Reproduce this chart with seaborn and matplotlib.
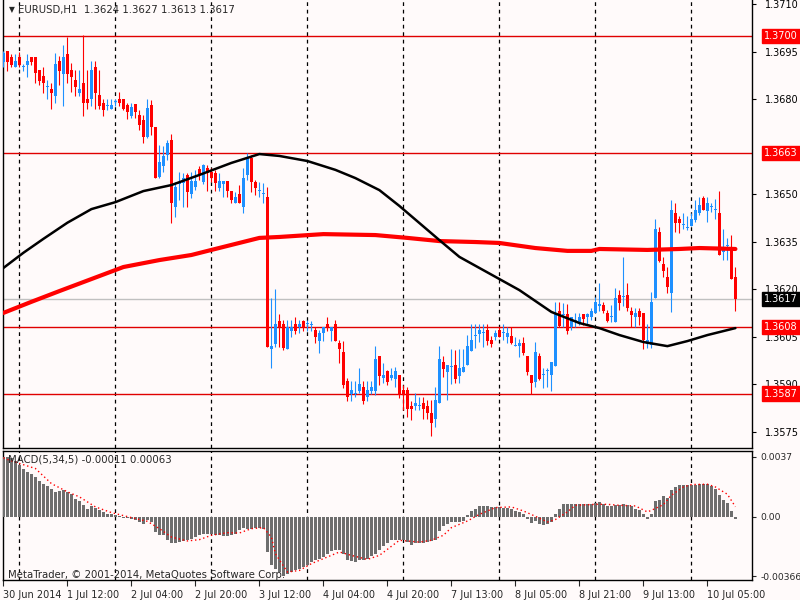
import numpy as np
import seaborn as sns
import matplotlib.pyplot as plt
import matplotlib.transforms as mtransforms

# ======================================
# DATA (EURUSD H1)
# ======================================

opens = [
    1.36918, 1.36953, 1.36934, 1.36902, 1.36934, 1.36902, 1.36908, 1.36934, 1.36934, 1.36893,
    1.36874, 1.36839, 1.36833, 1.36810, 1.36921, 1.36880, 1.36943, 1.36893, 1.36861, 1.36820,
    1.36852, 1.36801, 1.36801, 1.36902, 1.36814, 1.36788, 1.36779, 1.36769, 1.36792, 1.36801,
    1.36801, 1.36782, 1.36747, 1.36785, 1.36750, 1.36735, 1.36681, 1.36782, 1.36713, 1.36554,
    1.36589, 1.36624, 1.36671, 1.36460, 1.36532, 1.36536, 1.36561, 1.36501, 1.36523, 1.36580,
    1.36539, 1.36583, 1.36570, 1.36567, 1.36520, 1.36532, 1.36542, 1.36510, 1.36472, 1.36501,
    1.36460, 1.36561, 1.36615, 1.36539, 1.36510, 1.36501, 1.36491, 1.36011, 1.36027, 1.36099,
    1.36090, 1.36011, 1.36068, 1.36090, 1.36080, 1.36099, 1.36090, 1.36087, 1.36071, 1.36036,
    1.36062, 1.36090, 1.36068, 1.36090, 1.36030, 1.36002, 1.35910, 1.35869, 1.35869, 1.35878,
    1.35891, 1.35859, 1.35878, 1.35878, 1.35989, 1.35919, 1.35941, 1.35919, 1.35916, 1.35929,
    1.35881, 1.35881, 1.35831, 1.35831, 1.35831, 1.35840, 1.35831, 1.35809, 1.35790, 1.35840,
    1.35970, 1.35938, 1.35954, 1.35960, 1.35926, 1.35938, 1.35960, 1.36005, 1.36052, 1.36058,
    1.36062, 1.36071, 1.36039, 1.36049, 1.36071, 1.36062, 1.36049, 1.36052, 1.36020, 1.36020,
    1.36030, 1.35989, 1.35929, 1.35907, 1.35989, 1.35929, 1.35941, 1.35929, 1.35957, 1.36131,
    1.36118, 1.36122, 1.36080, 1.36099, 1.36093, 1.36122, 1.36112, 1.36112, 1.36125, 1.36147,
    1.36150, 1.36125, 1.36112, 1.36096, 1.36182, 1.36175, 1.36182, 1.36131, 1.36112, 1.36131,
    1.36125, 1.36027, 1.36024, 1.36172, 1.36381, 1.36280, 1.36238, 1.36188, 1.36441, 1.36422,
    1.36403, 1.36393, 1.36400, 1.36419, 1.36441, 1.36488, 1.36447, 1.36460, 1.36450, 1.36441,
    1.36317, 1.36336, 1.36333, 1.36240,
]
highs = [
    1.36953, 1.36953, 1.36943, 1.36943, 1.36950, 1.36912, 1.36943, 1.36934, 1.36934, 1.36893,
    1.36902, 1.36861, 1.36852, 1.36946, 1.36937, 1.36972, 1.36997, 1.36915, 1.36893, 1.36893,
    1.37003, 1.36893, 1.36921, 1.36921, 1.36893, 1.36801, 1.36801, 1.36801, 1.36801, 1.36823,
    1.36801, 1.36788, 1.36788, 1.36785, 1.36766, 1.36750, 1.36801, 1.36798, 1.36713, 1.36656,
    1.36652, 1.36671, 1.36690, 1.36539, 1.36570, 1.36567, 1.36567, 1.36570, 1.36577, 1.36589,
    1.36596, 1.36592, 1.36583, 1.36577, 1.36567, 1.36542, 1.36542, 1.36510, 1.36507, 1.36529,
    1.36583, 1.36630, 1.36624, 1.36545, 1.36539, 1.36536, 1.36523, 1.36172, 1.36201, 1.36122,
    1.36103, 1.36103, 1.36103, 1.36112, 1.36103, 1.36103, 1.36103, 1.36099, 1.36080, 1.36071,
    1.36080, 1.36112, 1.36080, 1.36103, 1.36039, 1.36036, 1.35919, 1.35910, 1.35910, 1.35951,
    1.35910, 1.35910, 1.35910, 1.36020, 1.35989, 1.35967, 1.35945, 1.35951, 1.35954, 1.35929,
    1.35897, 1.35891, 1.35847, 1.35872, 1.35859, 1.35859, 1.35850, 1.35850, 1.35891, 1.36020,
    1.35989, 1.35960, 1.36011, 1.36008, 1.36011, 1.36011, 1.36055, 1.36090, 1.36090, 1.36090,
    1.36090, 1.36090, 1.36052, 1.36071, 1.36080, 1.36090, 1.36080, 1.36080, 1.36049, 1.36043,
    1.36049, 1.35989, 1.35929, 1.36033, 1.35998, 1.35951, 1.35951, 1.35970, 1.36160, 1.36160,
    1.36156, 1.36153, 1.36112, 1.36125, 1.36125, 1.36122, 1.36125, 1.36141, 1.36175, 1.36220,
    1.36160, 1.36134, 1.36150, 1.36204, 1.36197, 1.36302, 1.36220, 1.36144, 1.36141, 1.36141,
    1.36125, 1.36090, 1.36191, 1.36422, 1.36396, 1.36302, 1.36270, 1.36482, 1.36472, 1.36431,
    1.36441, 1.36431, 1.36441, 1.36482, 1.36491, 1.36494, 1.36491, 1.36472, 1.36485, 1.36510,
    1.36390, 1.36362, 1.36371, 1.36270,
]
lows = [
    1.36902, 1.36889, 1.36902, 1.36902, 1.36902, 1.36889, 1.36870, 1.36908, 1.36852, 1.36845,
    1.36820, 1.36801, 1.36769, 1.36788, 1.36845, 1.36779, 1.36852, 1.36823, 1.36810, 1.36810,
    1.36747, 1.36769, 1.36779, 1.36769, 1.36769, 1.36747, 1.36766, 1.36769, 1.36779, 1.36779,
    1.36766, 1.36738, 1.36741, 1.36741, 1.36703, 1.36662, 1.36678, 1.36687, 1.36551, 1.36551,
    1.36570, 1.36608, 1.36409, 1.36428, 1.36482, 1.36460, 1.36460, 1.36488, 1.36513, 1.36545,
    1.36532, 1.36510, 1.36539, 1.36510, 1.36510, 1.36491, 1.36491, 1.36472, 1.36472, 1.36472,
    1.36441, 1.36545, 1.36507, 1.36498, 1.36491, 1.36472, 1.36017, 1.35951, 1.36017, 1.36017,
    1.36008, 1.36011, 1.36049, 1.36058, 1.36062, 1.36068, 1.36068, 1.36068, 1.36030, 1.35998,
    1.36036, 1.36068, 1.36036, 1.36036, 1.35967, 1.35888, 1.35847, 1.35847, 1.35859, 1.35872,
    1.35837, 1.35847, 1.35869, 1.35866, 1.35897, 1.35904, 1.35897, 1.35913, 1.35891, 1.35856,
    1.35818, 1.35796, 1.35787, 1.35818, 1.35818, 1.35790, 1.35790, 1.35736, 1.35764, 1.35840,
    1.35922, 1.35850, 1.35900, 1.35904, 1.35904, 1.35938, 1.35960, 1.36005, 1.36014, 1.36033,
    1.36017, 1.36024, 1.36017, 1.36039, 1.36049, 1.36039, 1.36030, 1.36027, 1.36020, 1.35986,
    1.35992, 1.35929, 1.35869, 1.35891, 1.35913, 1.35888, 1.35891, 1.35878, 1.35957, 1.36080,
    1.36080, 1.36058, 1.36071, 1.36080, 1.36087, 1.36087, 1.36087, 1.36103, 1.36125, 1.36131,
    1.36125, 1.36096, 1.36096, 1.36096, 1.36134, 1.36147, 1.36131, 1.36080, 1.36080, 1.36087,
    1.36011, 1.36014, 1.36014, 1.36172, 1.36286, 1.36238, 1.36188, 1.36128, 1.36381, 1.36378,
    1.36390, 1.36387, 1.36400, 1.36412, 1.36434, 1.36450, 1.36412, 1.36444, 1.36422, 1.36308,
    1.36292, 1.36292, 1.36232, 1.36130,
]
closes = [
    1.36946, 1.36918, 1.36908, 1.36921, 1.36908, 1.36905, 1.36921, 1.36918, 1.36883, 1.36858,
    1.36852, 1.36842, 1.36820, 1.36912, 1.36889, 1.36934, 1.36880, 1.36870, 1.36839, 1.36833,
    1.36788, 1.36788, 1.36893, 1.36820, 1.36779, 1.36766, 1.36782, 1.36782, 1.36795, 1.36788,
    1.36769, 1.36760, 1.36776, 1.36760, 1.36719, 1.36681, 1.36773, 1.36713, 1.36551, 1.36602,
    1.36621, 1.36662, 1.36472, 1.36523, 1.36539, 1.36551, 1.36507, 1.36542, 1.36542, 1.36561,
    1.36592, 1.36567, 1.36551, 1.36536, 1.36542, 1.36542, 1.36510, 1.36482, 1.36491, 1.36472,
    1.36551, 1.36615, 1.36539, 1.36520, 1.36513, 1.36504, 1.36017, 1.36020, 1.36090, 1.36080,
    1.36014, 1.36080, 1.36080, 1.36068, 1.36090, 1.36080, 1.36093, 1.36090, 1.36049, 1.36062,
    1.36080, 1.36080, 1.36080, 1.36036, 1.36011, 1.35897, 1.35859, 1.35881, 1.35872, 1.35900,
    1.35847, 1.35881, 1.35891, 1.35979, 1.35926, 1.35929, 1.35907, 1.35929, 1.35941, 1.35866,
    1.35866, 1.35821, 1.35821, 1.35840, 1.35834, 1.35821, 1.35809, 1.35777, 1.35850, 1.35979,
    1.35948, 1.35960, 1.35957, 1.35916, 1.35951, 1.35954, 1.36020, 1.36039, 1.36055, 1.36071,
    1.36065, 1.36036, 1.36027, 1.36062, 1.36049, 1.36065, 1.36062, 1.36030, 1.36024, 1.36030,
    1.35998, 1.35938, 1.35904, 1.36002, 1.35916, 1.35932, 1.35945, 1.35970, 1.36125, 1.36084,
    1.36122, 1.36068, 1.36112, 1.36103, 1.36112, 1.36106, 1.36122, 1.36131, 1.36160, 1.36153,
    1.36131, 1.36099, 1.36115, 1.36172, 1.36156, 1.36178, 1.36141, 1.36118, 1.36125, 1.36112,
    1.36039, 1.36039, 1.36160, 1.36390, 1.36289, 1.36257, 1.36207, 1.36450, 1.36409, 1.36409,
    1.36406, 1.36396, 1.36422, 1.36450, 1.36466, 1.36450, 1.36472, 1.36463, 1.36453, 1.36308,
    1.36330, 1.36340, 1.36232, 1.36170,
]

# moving averages, read at sample bars
ma_black_bar = [0, 5, 10, 16, 22, 28, 35, 42, 49, 57, 61, 64, 69, 76, 83, 88, 94, 99, 104,
                109, 114, 119, 124, 129, 137, 144, 149, 154, 160, 166, 171, 176, 183]
ma_black_val = [1.36267, 1.36315, 1.36359, 1.36410, 1.36453, 1.36475, 1.36510, 1.36529,
                1.36561, 1.36599, 1.36615, 1.36627, 1.36621, 1.36605, 1.36577, 1.36551,
                1.36513, 1.36463, 1.36409, 1.36355, 1.36302, 1.36267, 1.36232, 1.36197,
                1.36128, 1.36093, 1.36077, 1.36055, 1.36033, 1.36020, 1.36036, 1.36055,
                1.36077]
ma_red_bar = [0, 7, 14, 22, 30, 39, 47, 52, 58, 64, 69, 80, 93, 101, 109, 118, 124, 133,
              141, 147, 149, 161, 169, 174, 183]
ma_red_val = [1.36125, 1.36160, 1.36194, 1.36232, 1.36270, 1.36292, 1.36308, 1.36324,
              1.36343, 1.36362, 1.36365, 1.36374, 1.36371, 1.36362, 1.36352, 1.36349,
              1.36346, 1.36330, 1.36321, 1.36321, 1.36327, 1.36324, 1.36327, 1.36330,
              1.36327]

# MACD(5,34,5)
macd_hist = [
    0.00371, 0.00367, 0.00361, 0.00346, 0.00319, 0.00293, 0.00278, 0.00268, 0.00247, 0.00222,
    0.00206, 0.00190, 0.00175, 0.00155, 0.00161, 0.00165, 0.00155, 0.00144, 0.00113, 0.00097,
    0.00072, 0.00052, 0.00066, 0.00058, 0.00041, 0.00031, 0.00021, 0.00016, 0.00010, 0.00004,
    -0.00004, -0.00006, -0.00012, -0.00021, -0.00031, -0.00041, -0.00021, -0.00031, -0.00093, -0.00113,
    -0.00113, -0.00144, -0.00161, -0.00161, -0.00155, -0.00150, -0.00144, -0.00134, -0.00124, -0.00113,
    -0.00103, -0.00103, -0.00103, -0.00113, -0.00113, -0.00117, -0.00117, -0.00113, -0.00103, -0.00082,
    -0.00066, -0.00072, -0.00072, -0.00066, -0.00068, -0.00072, -0.00216, -0.00299, -0.00319, -0.00340,
    -0.00367, -0.00350, -0.00340, -0.00330, -0.00319, -0.00309, -0.00299, -0.00278, -0.00268, -0.00258,
    -0.00247, -0.00227, -0.00212, -0.00206, -0.00206, -0.00227, -0.00264, -0.00272, -0.00278, -0.00268,
    -0.00264, -0.00262, -0.00243, -0.00227, -0.00202, -0.00181, -0.00161, -0.00144, -0.00144, -0.00144,
    -0.00144, -0.00155, -0.00171, -0.00161, -0.00161, -0.00161, -0.00157, -0.00150, -0.00144, -0.00087,
    -0.00058, -0.00041, -0.00031, -0.00031, -0.00031, -0.00025, 0.00010, 0.00037, 0.00052, 0.00066,
    0.00066, 0.00066, 0.00062, 0.00062, 0.00062, 0.00058, 0.00058, 0.00052, 0.00037, 0.00031,
    0.00016, -0.00014, -0.00035, -0.00027, -0.00041, -0.00052, -0.00045, -0.00031, 0.00016, 0.00052,
    0.00078, 0.00078, 0.00078, 0.00078, 0.00078, 0.00078, 0.00078, 0.00082, 0.00087, 0.00091,
    0.00082, 0.00066, 0.00066, 0.00072, 0.00072, 0.00078, 0.00072, 0.00066, 0.00052, 0.00045,
    0.00016, -0.00014, 0.00016, 0.00099, 0.00107, 0.00128, 0.00117, 0.00165, 0.00185, 0.00200,
    0.00200, 0.00196, 0.00200, 0.00200, 0.00202, 0.00206, 0.00202, 0.00190, 0.00175, 0.00134,
    0.00103, 0.00087, 0.00035, -0.00011,
]
signal_bar = [0, 2, 8, 12, 16, 19, 23, 27, 32, 36, 39, 42, 46, 49, 52, 56, 59, 62, 65, 67,
              68, 71, 74, 77, 81, 84, 87, 91, 94, 97, 99, 104, 107, 110, 112, 116, 119, 123,
              127, 130, 133, 136, 138, 141, 143, 148, 151, 154, 158, 161, 162, 165, 167, 170,
              172, 176, 178, 181, 183]
signal_val = [0.00365, 0.00346, 0.00299, 0.00206, 0.00155, 0.00124, 0.00062, 0.00027,
              -0.00004, -0.00027, -0.00072, -0.00124, -0.00148, -0.00140, -0.00113, -0.00097,
              -0.00099, -0.00072, -0.00066, -0.00124, -0.00227, -0.00340, -0.00330, -0.00288,
              -0.00247, -0.00216, -0.00237, -0.00262, -0.00237, -0.00181, -0.00144, -0.00155,
              -0.00144, -0.00113, -0.00066, -0.00025, 0.00016, 0.00058, 0.00062, 0.00037,
              0.00004, -0.00031, -0.00016, 0.00031, 0.00072, 0.00078, 0.00078, 0.00072,
              0.00068, 0.00031, 0.00041, 0.00076, 0.00134, 0.00185, 0.00200, 0.00202,
              0.00185, 0.00140, 0.00063]

# levels and labels
level_red = [1.3700, 1.3663, 1.3608, 1.3587]
bid_price = 1.3617
# 1.3665 sits under the 1.3663 label box, so it is not listed
price_ticks = [1.3710, 1.3695, 1.3680, 1.3650, 1.3635, 1.3620, 1.3605, 1.3590, 1.3575]
macd_ticks = [0.0037, 0.0, -0.00366]
macd_tick_labels = ['0.0037', '0.00', '-0.00366']
time_tick_bar = [0, 16, 32, 48, 64, 80, 96, 112, 128, 144, 160, 176]
time_tick_labels = ['30 Jun 2014', '1 Jul 12:00', '2 Jul 04:00', '2 Jul 20:00', '3 Jul 12:00',
                    '4 Jul 04:00', '4 Jul 20:00', '7 Jul 13:00', '8 Jul 05:00', '8 Jul 21:00',
                    '9 Jul 13:00', '10 Jul 05:00']
grid_bar = [4, 28, 52, 76, 100, 124, 148, 172]

# ======================================
# STYLE
# ======================================

sns.set_style('white')
plt.rcParams['font.family'] = ['DejaVu Sans']
bg = '#fffafa'
bull = '#1e90ff'
bear = '#ff0000'
fs = 7

fig = plt.figure(figsize=(8, 6), dpi=100, facecolor=bg)
ax = fig.add_axes([3 / 800, 152 / 600, 749 / 800, 448 / 600], facecolor=bg)
ax2 = fig.add_axes([3 / 800, 20 / 600, 749 / 800, 129 / 600], facecolor=bg)

xlim = (-0.1, 749 / 4 - 0.1)

# ======================================
# PRICE PANEL
# ======================================

o = np.array(opens)
c = np.array(closes)
idx = np.arange(len(o))
up = c >= o
cols = np.where(up, bull, bear)
body_low = np.minimum(o, c)
body_h = np.maximum(np.abs(c - o), 0.000032)

for b in grid_bar:
    ax.axvline(b, color='black', lw=0.9, ls=(0, (3, 3)), zorder=1)
    ax2.axvline(b, color='black', lw=0.9, ls=(0, (3, 3)), zorder=1)

for lv in level_red:
    ax.axhline(lv, color='#e00000', lw=1, zorder=2)
ax.axhline(bid_price, color='#c0c0c0', lw=1, zorder=2)

ax.vlines(idx, lows, highs, colors=cols, lw=0.8, zorder=3)
ax.bar(idx, body_h, bottom=body_low, width=0.75, color=cols, lw=0, zorder=3)

sns.lineplot(x=ma_red_bar, y=ma_red_val, ax=ax, color='#ff0000', lw=3, zorder=4)
sns.lineplot(x=ma_black_bar, y=ma_black_val, ax=ax, color='black', lw=1.8, zorder=5)

ax.set_xlim(*xlim)
ax.set_ylim(1.356981, 1.371138)
ax.yaxis.tick_right()
ax.set_yticks(price_ticks)
ax.set_yticklabels([f'{t:.4f}' for t in price_ticks], fontsize=fs)
ax.tick_params(axis='y', length=3, width=0.8, pad=6, colors='black', direction='out', right=True)
ax.set_xticks([])
ax.set_xlabel('')
ax.set_ylabel('')
for s in ax.spines.values():
    s.set_color('black')
    s.set_linewidth(1)
ax.spines['top'].set_visible(False)

trans = mtransforms.blended_transform_factory(ax.transAxes, ax.transData)
for lv in level_red:
    ax.text(1.0163, lv, f'{lv:.4f}', transform=trans, fontsize=fs, color='white',
            va='center', ha='left', zorder=10, clip_on=False,
            bbox=dict(boxstyle='square,pad=0.22', fc='#ff0000', ec='#ff0000'))
ax.text(1.0163, bid_price, f'{bid_price:.4f}', transform=trans, fontsize=fs, color='white',
        va='center', ha='left', zorder=10, clip_on=False,
        bbox=dict(boxstyle='square,pad=0.22', fc='black', ec='black'))

ax.text(6 / 749, 1 - 10 / 448, '\u25bc', transform=ax.transAxes, fontsize=5.5,
        va='center', ha='left')
ax.text(15 / 749, 1 - 10 / 448, 'EURUSD,H1  1.3624 1.3627 1.3613 1.3617',
        transform=ax.transAxes, fontsize=fs + 0.3, va='center', ha='left')

# ======================================
# MACD PANEL
# ======================================

ax2.bar(idx, macd_hist, width=0.75, color='#6e6e6e', lw=0, zorder=3)
sns.lineplot(x=signal_bar, y=signal_val, ax=ax2, color='#ff0000', lw=1,
             ls=(0, (1, 2)), zorder=4)

ax2.set_xlim(*xlim)
ax2.set_ylim(-0.00389, 0.00407)
ax2.yaxis.tick_right()
ax2.set_yticks(macd_ticks)
ax2.set_yticklabels(macd_tick_labels, fontsize=6.6)
ax2.tick_params(axis='y', length=3, width=0.8, pad=3, direction='out', right=True)
ax2.set_xticks(time_tick_bar)
ax2.set_xticklabels(time_tick_labels, fontsize=fs, ha='left')
ax2.tick_params(axis='x', length=4, width=0.8, pad=3, direction='out', bottom=True)
ax2.set_xlabel('')
ax2.set_ylabel('')
for s in ax2.spines.values():
    s.set_color('black')
    s.set_linewidth(1)

ax2.text(5 / 749, 1 - 8 / 129, 'MACD(5,34,5) -0.00011 0.00063', transform=ax2.transAxes,
         fontsize=fs + 0.3, va='center', ha='left', zorder=6)
ax2.text(5 / 749, 5 / 129, 'MetaTrader, \u00a9 2001-2014, MetaQuotes Software Corp.',
         transform=ax2.transAxes, fontsize=fs + 0.3, va='center', ha='left', zorder=6)

fig.savefig('out.png', dpi=100, facecolor=bg)
